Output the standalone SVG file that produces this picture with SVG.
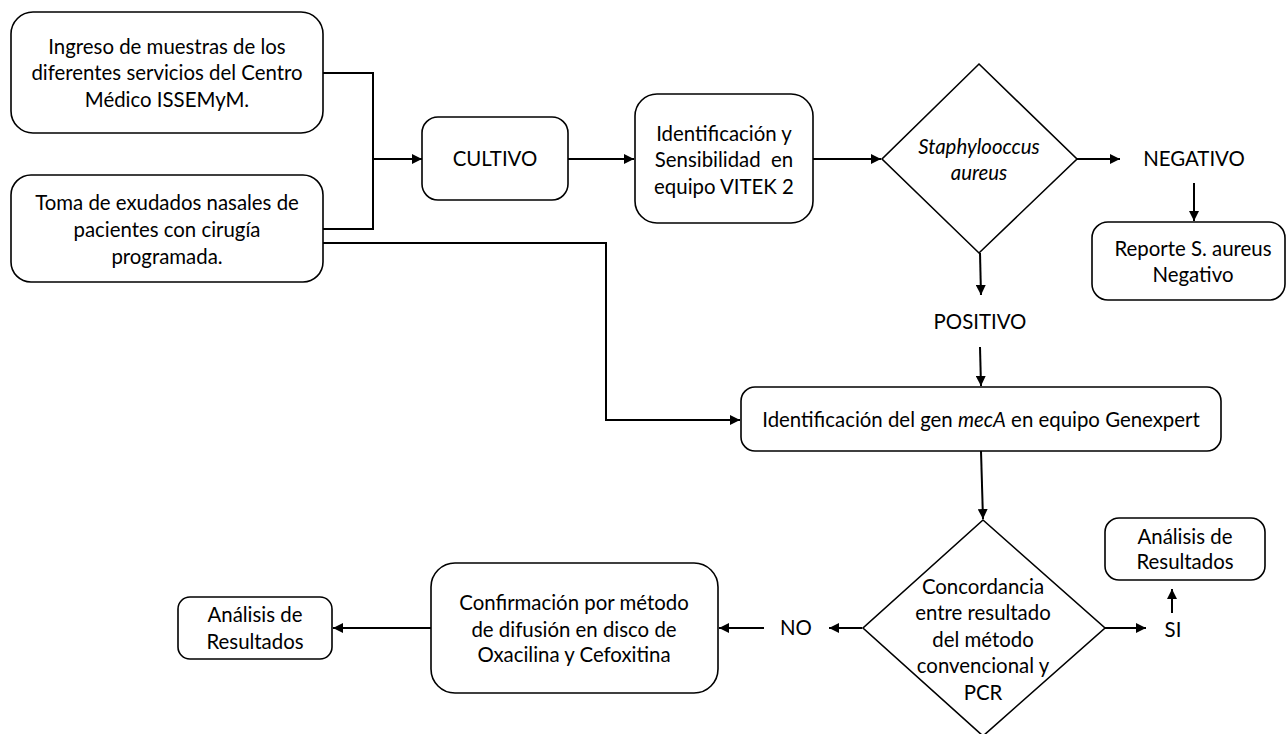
<svg xmlns="http://www.w3.org/2000/svg" width="1287" height="734" viewBox="0 0 1287 734">
<style>
.box{fill:#fff;stroke:#000;stroke-width:1.6}
.t{font-family:"Lato","Liberation Sans",sans-serif;font-size:20.4px;fill:#000;text-anchor:middle}
.c{fill:none;stroke:#000;stroke-width:2}
</style>
<defs>
<marker id="ah" viewBox="0 0 10 10" refX="10" refY="5" markerWidth="5" markerHeight="5" orient="auto" markerUnits="strokeWidth">
<path d="M0,0 L10,5 L0,10 z" fill="#000"/>
</marker>
</defs>
<rect width="1287" height="734" fill="#fff"/>
<g id="connectors">
<polyline class="c" points="323,73 373,73 373,229 323,229"/>
<line class="c" x1="373" y1="159" x2="422" y2="159" marker-end="url(#ah)"/>
<polyline class="c" points="323,243 606,243 606,420 740,420" marker-end="url(#ah)"/>
<line class="c" x1="568" y1="159" x2="634" y2="159" marker-end="url(#ah)"/>
<line class="c" x1="813" y1="159" x2="881" y2="159" marker-end="url(#ah)"/>
<line class="c" x1="1077" y1="159" x2="1120" y2="159" marker-end="url(#ah)"/>
<line class="c" x1="1194" y1="183" x2="1194" y2="221" marker-end="url(#ah)"/>
<line class="c" x1="980" y1="253" x2="981" y2="295" marker-end="url(#ah)"/>
<line class="c" x1="980" y1="347" x2="981" y2="386" marker-end="url(#ah)"/>
<line class="c" x1="981" y1="451" x2="983" y2="519" marker-end="url(#ah)"/>
<line class="c" x1="1105" y1="628" x2="1146" y2="628" marker-end="url(#ah)"/>
<line class="c" x1="1172" y1="613" x2="1172" y2="589" marker-end="url(#ah)"/>
<line class="c" x1="862" y1="628" x2="829" y2="628" marker-end="url(#ah)"/>
<line class="c" x1="764" y1="628" x2="719" y2="628" marker-end="url(#ah)"/>
<line class="c" x1="431" y1="628" x2="333" y2="628" marker-end="url(#ah)"/>
</g>
<g id="n-ingreso">
<rect class="box" x="11" y="12" width="312" height="121" rx="22"/>
<text class="t" x="167" y="54">Ingreso de muestras de los</text>
<text class="t" x="167" y="80">diferentes servicios del Centro</text>
<text class="t" x="167" y="107">Médico ISSEMyM.</text>
</g>
<g id="n-toma">
<rect class="box" x="11" y="175" width="312" height="107" rx="20"/>
<text class="t" x="167" y="210">Toma de exudados nasales de</text>
<text class="t" x="167" y="237">pacientes con cirugía</text>
<text class="t" x="167" y="264">programada.</text>
</g>
<g id="n-cultivo">
<rect class="box" x="422" y="117" width="146" height="83" rx="16"/>
<text class="t" x="495" y="166">CULTIVO</text>
</g>
<g id="n-vitek">
<rect class="box" x="635" y="94" width="178" height="129" rx="22"/>
<text class="t" x="724" y="141">Identificación y</text>
<text class="t" x="724" y="167" xml:space="preserve">Sensibilidad  en</text>
<text class="t" x="724" y="194">equipo VITEK 2</text>
</g>
<g id="n-staph">
<polygon class="box" points="979,64 1077,159 979,253 882,159"/>
<text class="t" x="979" y="154" font-style="italic">Staphylooccus</text>
<text class="t" x="979" y="180" font-style="italic">aureus</text>
</g>
<g id="n-negativo">
<text class="t" x="1194" y="166">NEGATIVO</text>
</g>
<g id="n-reporte">
<rect class="box" x="1092" y="222" width="193" height="78" rx="16"/>
<text class="t" x="1193" y="256">Reporte S. aureus</text>
<text class="t" x="1193" y="282">Negativo</text>
</g>
<g id="n-positivo">
<text class="t" x="980" y="329">POSITIVO</text>
</g>
<g id="n-genexpert">
<rect class="box" x="741" y="387" width="480" height="64" rx="14"/>
<text class="t" x="981" y="427">Identificación del gen <tspan font-style="italic">mecA</tspan> en equipo Genexpert</text>
</g>
<g id="n-concordancia">
<polygon class="box" points="983,520 1105,628 983,736 863,628"/>
<text class="t" x="983" y="594">Concordancia</text>
<text class="t" x="983" y="620">entre resultado</text>
<text class="t" x="983" y="647">del método</text>
<text class="t" x="983" y="673">convencional y</text>
<text class="t" x="983" y="700">PCR</text>
</g>
<g id="n-si">
<text class="t" x="1173" y="637">SI</text>
</g>
<g id="n-analisis-si">
<rect class="box" x="1105" y="518" width="160" height="62" rx="14"/>
<text class="t" x="1185" y="544">Análisis de</text>
<text class="t" x="1185" y="569">Resultados</text>
</g>
<g id="n-no">
<text class="t" x="796" y="635">NO</text>
</g>
<g id="n-confirmacion">
<rect class="box" x="431" y="563" width="287" height="130" rx="24"/>
<text class="t" x="574" y="610">Confirmación por método</text>
<text class="t" x="574" y="637">de difusión en disco de</text>
<text class="t" x="574" y="662">Oxacilina y Cefoxitina</text>
</g>
<g id="n-analisis-no">
<rect class="box" x="178" y="597" width="154" height="62" rx="12"/>
<text class="t" x="255" y="622">Análisis de</text>
<text class="t" x="255" y="649">Resultados</text>
</g>
</svg>
